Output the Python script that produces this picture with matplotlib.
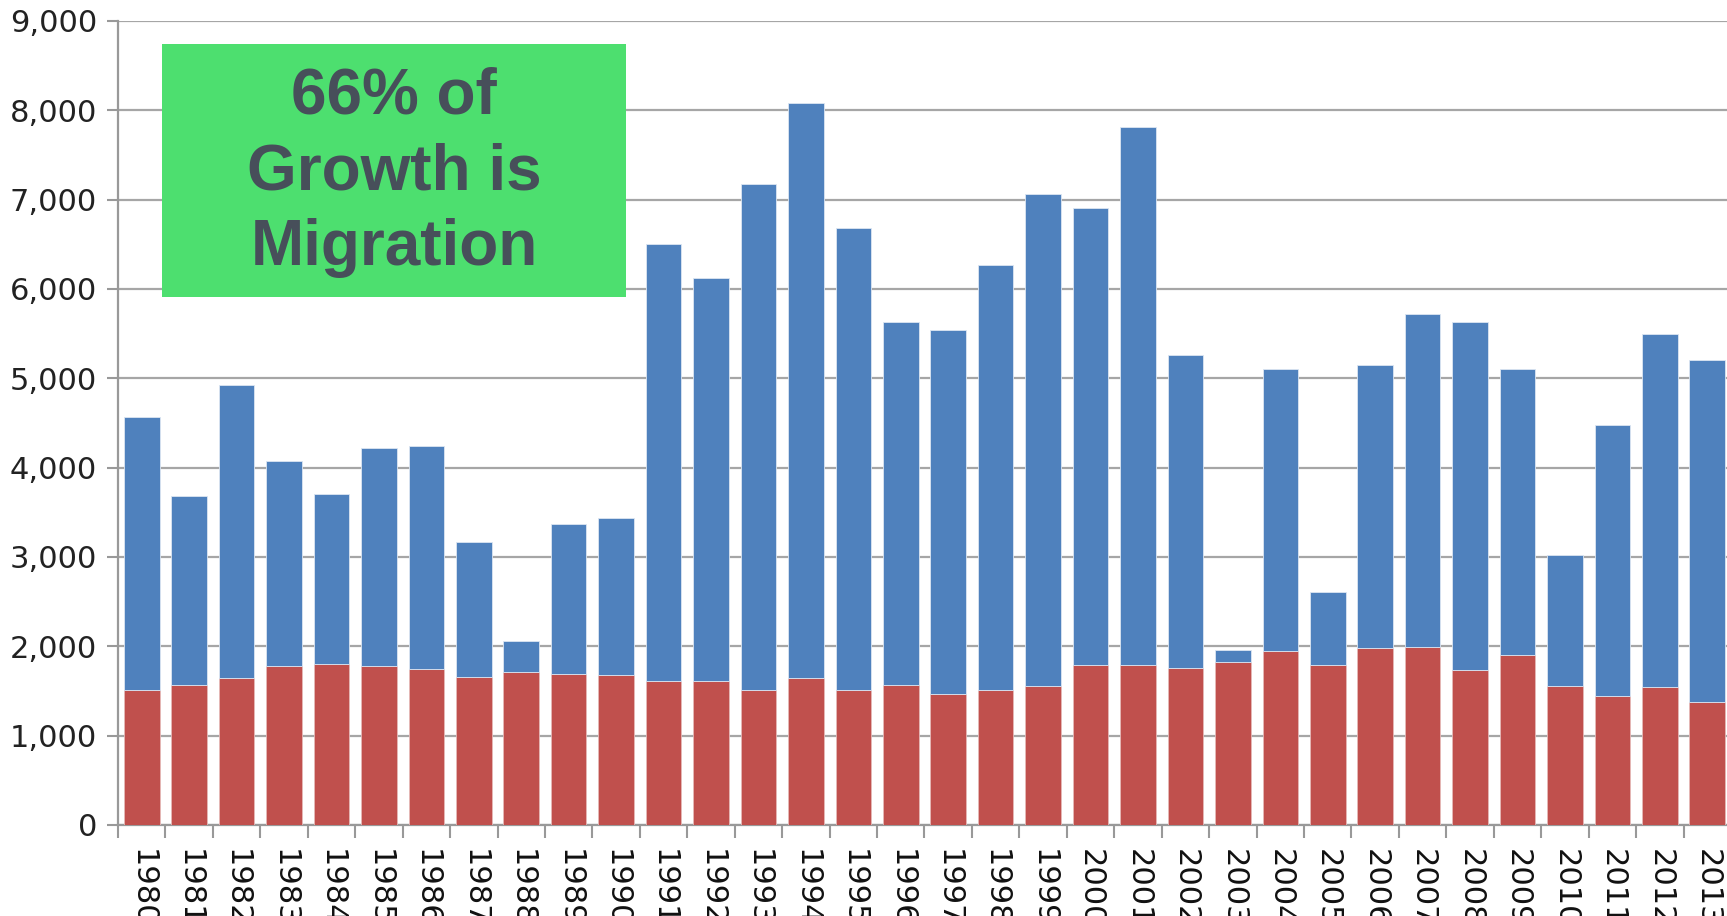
import matplotlib.pyplot as plt
from matplotlib.patches import Rectangle
from matplotlib.ticker import FuncFormatter, FixedLocator

years = [str(y) for y in range(1980, 2014)]
# bar totals (natural increase + net migration) and the natural increase part
totals = [4570, 3680, 4920, 4080, 3700, 4220, 4240, 3170, 2060, 3370, 3440,
          6500, 6120, 7170, 8080, 6680, 5630, 5540, 6270, 7060, 6910, 7810,
          5260, 1960, 5110, 2610, 5150, 5720, 5630, 5100, 3020, 4480, 5500, 5200]
natural = [1510, 1570, 1640, 1780, 1800, 1780, 1750, 1660, 1715, 1690, 1680,
           1610, 1610, 1510, 1640, 1510, 1570, 1470, 1510, 1560, 1790, 1790,
           1760, 1820, 1950, 1790, 1980, 1990, 1730, 1900, 1560, 1440, 1540, 1380]
migration = [t - n for t, n in zip(totals, natural)]

BLUE = "#4F81BD"
RED = "#C0504D"
GRID = "#A6A6A6"

fig = plt.figure(figsize=(17.27, 9.16), dpi=100)
ax = fig.add_axes([118 / 1727, 91 / 916, 1613 / 1727, 804 / 916])

x = list(range(len(years)))
ax.bar(x, natural, width=0.75, color=RED, edgecolor="#E6B9B8", linewidth=0.6, zorder=3)
ax.bar(x, migration, bottom=natural, width=0.75, color=BLUE, edgecolor="#DCE6F2",
       linewidth=0.6, zorder=3)

ax.set_xlim(-0.5, len(years) - 0.5)
ax.set_ylim(0, 9000)
ax.set_yticks(range(0, 9001, 1000))
ax.yaxis.set_major_formatter(FuncFormatter(lambda v, p: f"{int(v):,}"))
ax.yaxis.grid(True, color=GRID, linewidth=1.6, zorder=0)
ax.set_axisbelow(True)

ax.set_xticks(x)
ax.set_xticklabels(years, rotation=-90, va="top", ha="center")
ax.xaxis.set_minor_locator(FixedLocator([i - 0.5 for i in range(len(years) + 1)]))
ax.tick_params(axis="x", which="major", length=0, pad=17, labelsize=22, labelcolor="#111111")
ax.tick_params(axis="x", which="minor", length=9, width=1.5, color="#999999", direction="out")
ax.tick_params(axis="y", length=8, width=1.5, color="#999999", pad=7, labelsize=22,
               labelcolor="#222222")

for s in ["top", "right"]:
    ax.spines[s].set_visible(False)
for s in ["left", "bottom"]:
    ax.spines[s].set_color("#999999")
    ax.spines[s].set_linewidth(1.6)

box = Rectangle((162 / 1727, 619 / 916), 464 / 1727, 253 / 916, transform=fig.transFigure,
                facecolor="#4DDF6F", edgecolor="none", zorder=10, clip_on=False)
ax.add_patch(box)
ax.text(394 / 1727, 744 / 916, "66% of\nGrowth is\nMigration", transform=fig.transFigure,
        ha="center", va="center", fontsize=46, fontweight="bold", family="Liberation Sans",
        color="#474F5A", linespacing=1.33, zorder=11)

fig.savefig("out.png", dpi=100)
